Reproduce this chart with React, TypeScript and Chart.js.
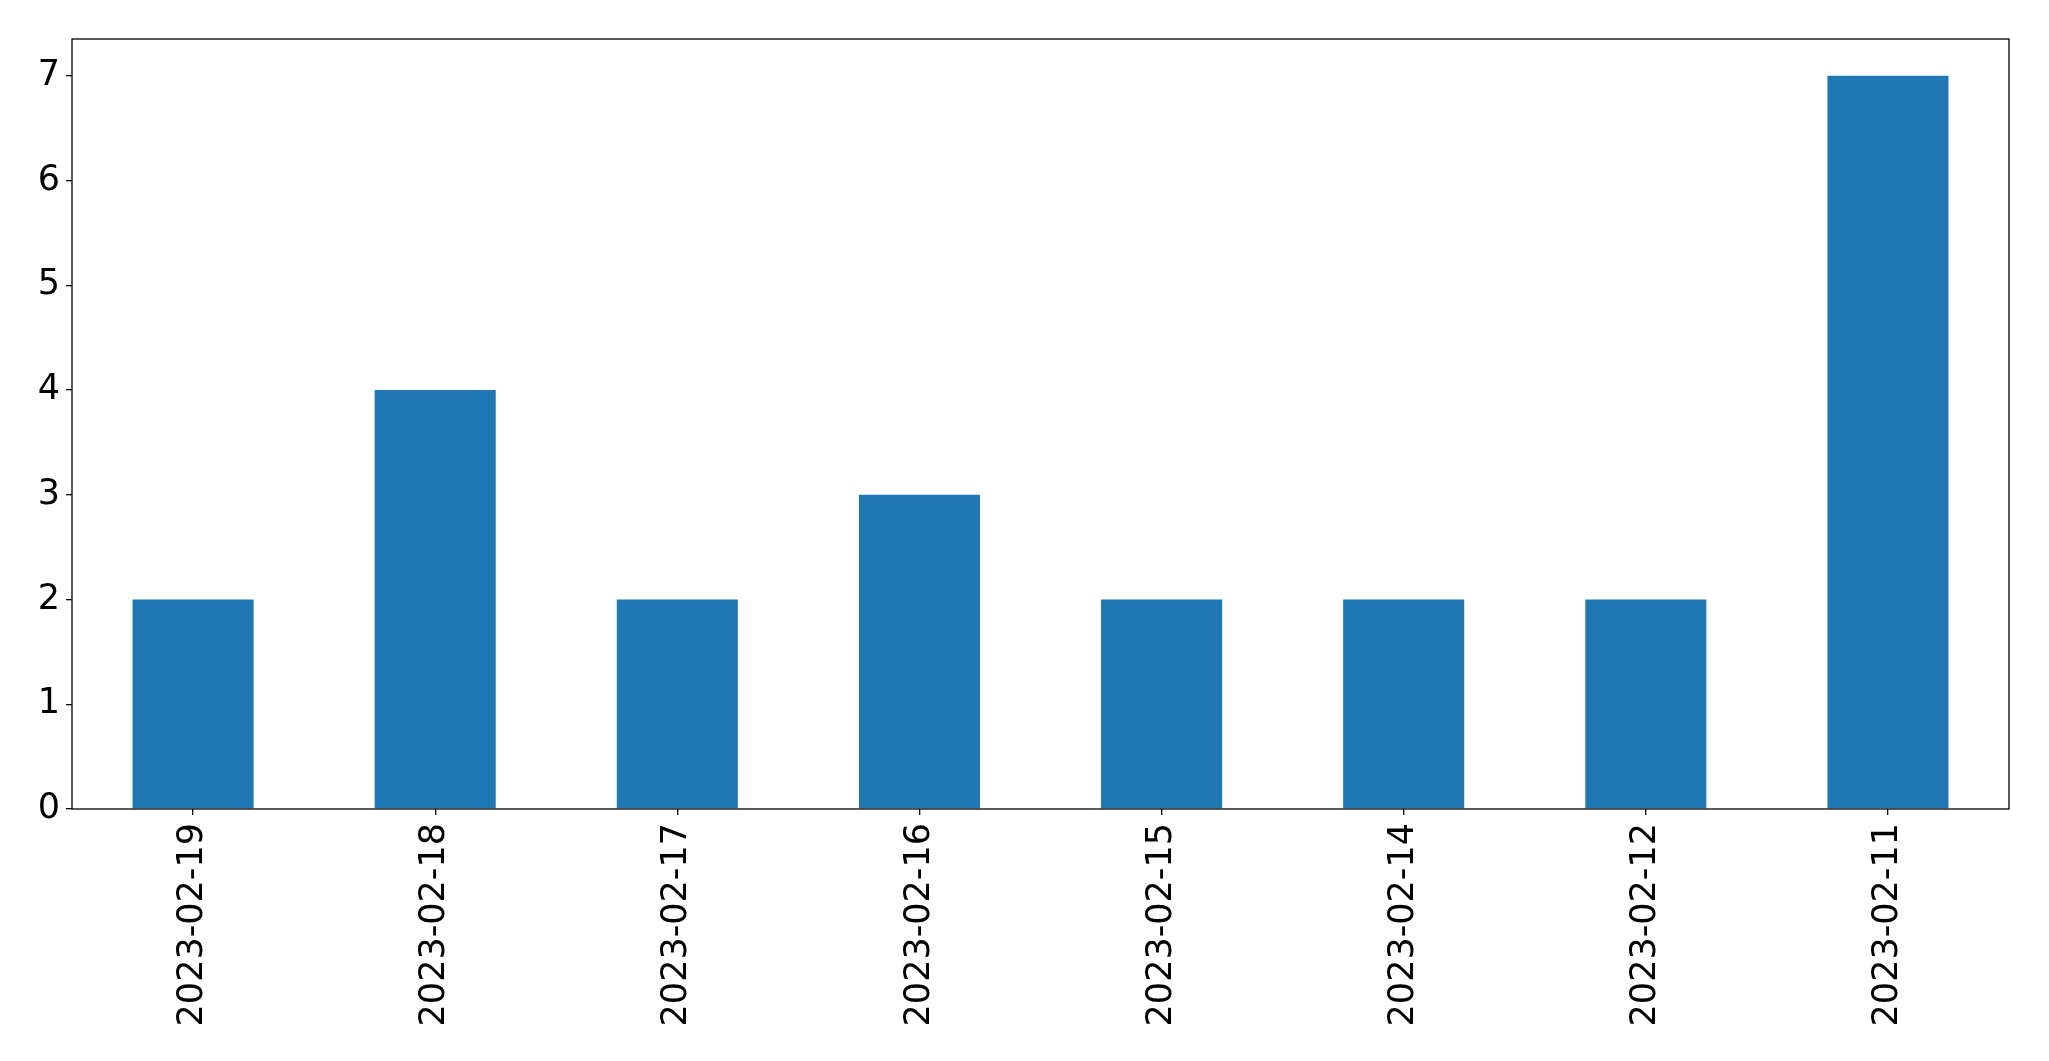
import React, { useEffect, useRef } from "react";
import { Chart, registerables } from "chart.js";

Chart.register(...registerables);

const categories = [
  "2023-02-19",
  "2023-02-18",
  "2023-02-17",
  "2023-02-16",
  "2023-02-15",
  "2023-02-14",
  "2023-02-12",
  "2023-02-11",
];
const counts = [2, 4, 2, 3, 2, 2, 2, 7];
const yTicks = [0, 1, 2, 3, 4, 5, 6, 7];
const yMax = 7.35;

const W = 2049;
const H = 1061;
const FONT = { family: "'DejaVu Sans'", size: 35 };

const boxPlugin = {
  id: "box",
  afterDraw(chart: any) {
    const { ctx, chartArea } = chart;
    ctx.save();
    ctx.strokeStyle = "#000";
    ctx.lineWidth = 1.3;
    ctx.strokeRect(chartArea.left, chartArea.top, chartArea.right - chartArea.left, chartArea.bottom - chartArea.top);
    ctx.restore();
  },
};

export default function App() {
  const ref = useRef<HTMLCanvasElement>(null);
  useEffect(() => {
    document.body.style.margin = "0";
    const chart = new Chart(ref.current!, {
      type: "bar",
      data: {
        labels: categories,
        datasets: [
          {
            data: counts,
            backgroundColor: "#1f77b4",
            categoryPercentage: 1,
            barPercentage: 0.5,
          },
        ],
      },
      options: {
        responsive: false,
        animation: false,
        layout: { padding: { left: 0, top: 39, right: 40, bottom: 0 } },
        plugins: { legend: { display: false }, tooltip: { enabled: false } },
        scales: {
          x: {
            offset: true,
            grid: {
              display: true,
              offset: false,
              drawOnChartArea: false,
              drawTicks: true,
              tickLength: 6,
              color: "#000",
              lineWidth: 1.3,
            },
            border: { display: false },
            ticks: {
              color: "#000",
              font: FONT,
              minRotation: 90,
              maxRotation: 90,
              padding: 8,
              autoSkip: false,
            },
            afterFit(scale: any) {
              scale.height = H - 809 - 0;
            },
          },
          y: {
            min: 0,
            max: yMax,
            grid: {
              display: true,
              drawOnChartArea: false,
              drawTicks: true,
              tickLength: 6,
              color: "#000",
              lineWidth: 1.3,
            },
            border: { display: false },
            ticks: {
              color: "#000",
              font: FONT,
              padding: 6,
            },
            afterBuildTicks(scale: any) {
              scale.ticks = yTicks.map((v) => ({ value: v }));
            },
            afterFit(scale: any) {
              scale.width = 72;
            },
          },
        },
      },
      plugins: [boxPlugin],
    });
    return () => chart.destroy();
  }, []);
  return <canvas ref={ref} width={W} height={H} style={{ display: "block" }} />;
}
